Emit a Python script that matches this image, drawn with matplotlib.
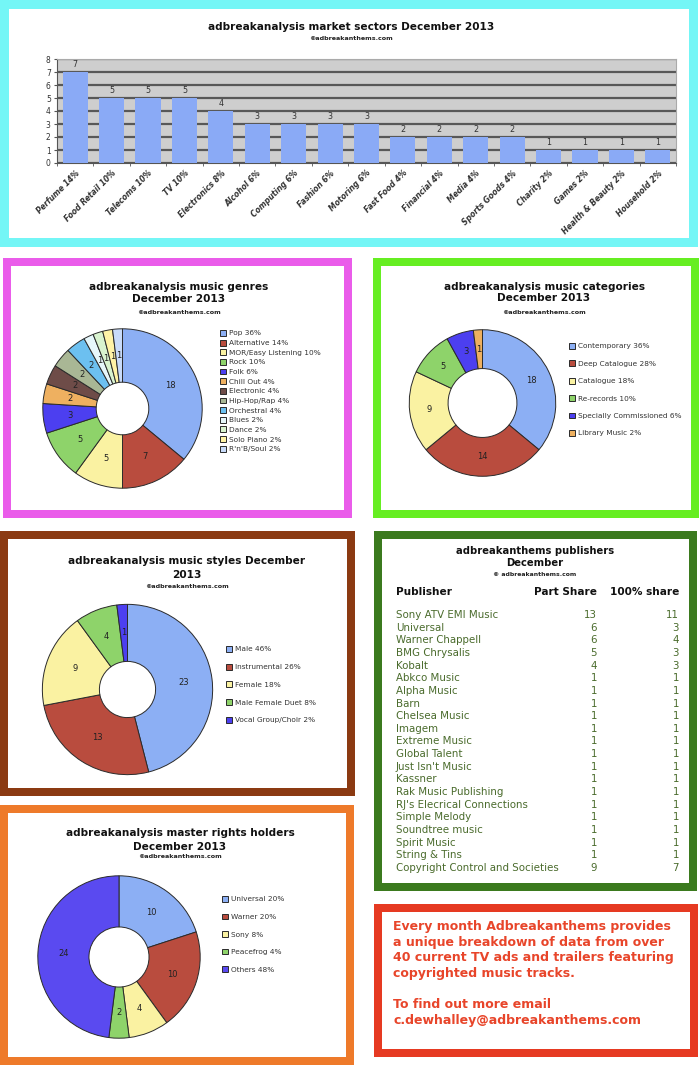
import matplotlib
matplotlib.use("Agg")
import matplotlib.pyplot as plt
from matplotlib.patches import Rectangle
import numpy as np

W, H = 700, 1069

plt.rcParams["font.family"] = "DejaVu Sans"

# ---- data ----
SECTORS = ["Perfume 14%", "Food Retail 10%", "Telecoms 10%", "TV 10%", "Electronics 8%",
           "Alcohol 6%", "Computing 6%", "Fashion 6%", "Motoring 6%", "Fast Food 4%",
           "Financial 4%", "Media 4%", "Sports Goods 4%", "Charity 2%", "Games 2%",
           "Health & Beauty 2%", "Household 2%"]
SECTOR_COUNTS = [7, 5, 5, 5, 4, 3, 3, 3, 3, 2, 2, 2, 2, 1, 1, 1, 1]

GENRES = ["Pop 36%", "Alternative 14%", "MOR/Easy Listening 10%", "Rock 10%", "Folk 6%",
          "Chill Out 4%", "Electronic 4%", "Hip-Hop/Rap 4%", "Orchestral 4%", "Blues 2%",
          "Dance 2%", "Solo Piano 2%", "R'n'B/Soul 2%"]
GENRE_COUNTS = [18, 7, 5, 5, 3, 2, 2, 2, 2, 1, 1, 1, 1]

CATEGORIES = ["Contemporary 36%", "Deep Catalogue 28%", "Catalogue 18%", "Re-records 10%",
              "Specially Commissioned 6%", "Library Music 2%"]
CATEGORY_COUNTS = [18, 14, 9, 5, 3, 1]

STYLES = ["Male 46%", "Instrumental 26%", "Female 18%", "Male Female Duet 8%",
          "Vocal Group/Choir 2%"]
STYLE_COUNTS = [23, 13, 9, 4, 1]

HOLDERS = ["Universal 20%", "Warner 20%", "Sony 8%", "Peacefrog 4%", "Others 48%"]
HOLDER_COUNTS = [10, 10, 4, 2, 24]

PUBLISHERS = ["Sony ATV EMI Music", "Universal", "Warner Chappell", "BMG Chrysalis", "Kobalt",
              "Abkco Music", "Alpha Music", "Barn", "Chelsea Music", "Imagem", "Extreme Music",
              "Global Talent", "Just Isn't Music", "Kassner", "Rak Music Publishing",
              "RJ's Elecrical Connections", "Simple Melody", "Soundtree music", "Spirit Music",
              "String & Tins", "Copyright Control and Societies"]
PART_SHARE = [13, 6, 6, 5, 4, 1, 1, 1, 1, 1, 1, 1, 1, 1, 1, 1, 1, 1, 1, 1, 9]
FULL_SHARE = [11, 3, 4, 3, 3, 1, 1, 1, 1, 1, 1, 1, 1, 1, 1, 1, 1, 1, 1, 1, 7]

BLUE, RED, YELLOW, GREEN = "#8cafF4", "#b94c3e", "#faf2a2", "#8ed36a"
PURPLE, ORANGE = "#4c3ff0", "#eeb060"
GENRE_COLORS = [BLUE, RED, YELLOW, GREEN, PURPLE, ORANGE, "#6e4c48", "#a9b795",
                "#6cc0f0", "#e6f7fb", "#d8f3cf", "#fff3a6", "#c8dbfa"]
CATEGORY_COLORS = [BLUE, RED, YELLOW, GREEN, PURPLE, ORANGE]
STYLE_COLORS = [BLUE, RED, YELLOW, GREEN, PURPLE]
HOLDER_COLORS = [BLUE, RED, YELLOW, GREEN, "#5a4af0"]

INFO_TEXT = ("Every month Adbreakanthems provides\n"
             "a unique breakdown of data from over\n"
             "40 current TV ads and trailers featuring\n"
             "copyrighted music tracks.\n\n"
             "To find out more email\n"
             "c.dewhalley@adbreakanthems.com")


def box(x0, y0, x1, y1):
    return [x0 / W, 1 - y1 / H, (x1 - x0) / W, (y1 - y0) / H]


def fx(x):
    return x / W


def fy(y):
    return 1 - y / H


def panel(fig, x0, y0, x1, y1, color, t=8):
    fig.add_artist(Rectangle((fx(x0), fy(y1)), (x1 - x0) / W, (y1 - y0) / H,
                             transform=fig.transFigure, facecolor=color,
                             edgecolor="none", zorder=-2))
    fig.add_artist(Rectangle((fx(x0 + t), fy(y1 - t)), (x1 - x0 - 2 * t) / W,
                             (y1 - y0 - 2 * t) / H, transform=fig.transFigure,
                             facecolor="white", edgecolor="none", zorder=-1))


def titles(fig, cx, lines, sub_y):
    for text, y in lines:
        fig.text(fx(cx), fy(y), text, ha="center", va="center",
                 fontsize=7.6, fontweight="bold", color="#111111")
    fig.text(fx(cx), fy(sub_y), "©adbreakanthems.com", ha="center", va="center",
             fontsize=4.6, fontweight="bold", color="#222222")


def donut(fig, cx, cy, r, inner, values, colors, labels, leg_x, leg_y, spacing):
    ax = fig.add_axes(box(cx - r, cy - r, cx + r, cy + r))
    total = sum(values)
    wedges, _, autotexts = ax.pie(
        values, colors=colors, startangle=90, counterclock=False, radius=1.0,
        wedgeprops=dict(width=1 - inner, edgecolor="#2a2a2a", linewidth=0.7),
        autopct=lambda p: f"{p * total / 100:.0f}",
        pctdistance=1 - (1 - inner) / 2,
        textprops=dict(fontsize=6, color="#222222"))
    ax.set_xlim(-1.01, 1.01)
    ax.set_ylim(-1.01, 1.01)
    ax.axis("off")
    fs = 5.3
    fig.legend(wedges, labels, loc="upper left",
               bbox_to_anchor=(fx(leg_x), fy(leg_y - 5)), frameon=False,
               fontsize=fs, borderpad=0, borderaxespad=0,
               handlelength=0.85, handleheight=0.85, handletextpad=0.35,
               labelspacing=spacing, labelcolor="#333333")


fig = plt.figure(figsize=(W / 100, H / 100), dpi=100)
fig.patch.set_facecolor("white")

panel(fig, 0, 0, 698, 247, "#74f6f6", t=9)
panel(fig, 3, 258, 352, 518, "#ea5cea")
panel(fig, 373, 258, 699, 518, "#66ee22")
panel(fig, 0, 531, 355, 796, "#8b3a12")
panel(fig, 374, 531, 697, 891, "#3b7a1e")
panel(fig, 0, 805, 354, 1065, "#ee7a2a")
panel(fig, 374, 904, 698, 1057, "#e63a22")

# ---- market sectors bar chart ----
titles(fig, 351, [("adbreakanalysis market sectors December 2013", 27)], 38)
ax = fig.add_axes(box(57, 59, 676, 163))
x = np.arange(len(SECTORS))
bars = ax.bar(x, SECTOR_COUNTS, width=0.69, color="#8aaaf6", zorder=3)
ax.bar_label(bars, padding=2, fontsize=5.8, color="#333333")
ax.set_facecolor("#cecece")
ax.set_xlim(-0.5, len(SECTORS) - 0.5)
ax.set_ylim(0, 8)
ax.set_yticks(range(9))
ax.yaxis.grid(True, color="#585858", linewidth=1.6)
ax.set_axisbelow(True)
ax.set_xticks(x)
ax.set_xticklabels(SECTORS, rotation=45, ha="right", va="top", rotation_mode="anchor",
                   fontsize=5.5, fontweight="bold", fontstyle="italic", color="#333333")
ax.set_xticks(np.arange(-0.5, len(SECTORS)), minor=True)
ax.tick_params(axis="x", which="major", length=0, pad=4)
ax.tick_params(axis="x", which="minor", length=2.5, color="#555555")
ax.tick_params(axis="y", labelsize=5.5, length=2.5, pad=2, labelcolor="#333333", color="#555555")
for side in ["left", "bottom"]:
    ax.spines[side].set_color("#555555")
for side in ["top", "right"]:
    ax.spines[side].set_color("#aaaaaa")

# ---- music genres ----
titles(fig, 179, [("adbreakanalysis music genres", 287), ("December 2013", 299)], 312)
donut(fig, 122.5, 408.5, 80.5, 0.33, GENRE_COUNTS, GENRE_COLORS, GENRES, 220, 335, 0.43)

# ---- music categories ----
titles(fig, 544, [("adbreakanalysis music categories", 287), ("December 2013", 298)], 312)
donut(fig, 482.5, 403, 74, 0.47, CATEGORY_COUNTS, CATEGORY_COLORS, CATEGORIES, 569, 348, 1.48)

# ---- music styles ----
titles(fig, 187, [("adbreakanalysis music styles December", 561), ("2013", 575)], 587)
donut(fig, 127.5, 689.5, 86, 0.33, STYLE_COUNTS, STYLE_COLORS, STYLES, 226, 651, 1.52)

# ---- master rights holders ----
titles(fig, 180, [("adbreakanalysis master rights holders", 833), ("December 2013", 847)], 857)
donut(fig, 119, 957, 82, 0.37, HOLDER_COUNTS, HOLDER_COLORS, HOLDERS, 222, 901, 1.5)

# ---- publishers table ----
fig.text(fx(535), fy(551), "adbreakanthems publishers", ha="center", va="center",
         fontsize=7.2, fontweight="bold", color="#111111")
fig.text(fx(535), fy(563), "December", ha="center", va="center",
         fontsize=7.2, fontweight="bold", color="#111111")
fig.text(fx(535), fy(574), "© adbreakanthems.com", ha="center", va="center",
         fontsize=4.4, fontweight="bold", color="#222222")
fig.text(fx(396), fy(592), "Publisher", ha="left", va="center",
         fontsize=7.6, fontweight="bold", color="#111111")
fig.text(fx(597), fy(592), "Part Share", ha="right", va="center",
         fontsize=7.6, fontweight="bold", color="#111111")
fig.text(fx(679), fy(592), "100% share", ha="right", va="center",
         fontsize=7.6, fontweight="bold", color="#111111")

n = len(PUBLISHERS)
step = (868 - 615) / (n - 1)
tax = fig.add_axes(box(382, 615 - step / 2, 690, 868 + step / 2))
tax.set_xlim(382, 690)
tax.set_ylim(n - 0.5, -0.5)
tax.axis("off")
green_text = "#4a6b2c"
for i, (name, part, full) in enumerate(zip(PUBLISHERS, PART_SHARE, FULL_SHARE)):
    tax.text(396, i, name, ha="left", va="center", fontsize=7.4, color=green_text)
    tax.text(597, i, str(part), ha="right", va="center", fontsize=7.4, color=green_text)
    tax.text(679, i, str(full), ha="right", va="center", fontsize=7.4, color=green_text)

# ---- info box ----
fig.text(fx(393), fy(920), INFO_TEXT, ha="left", va="top", fontsize=9,
         fontweight="bold", color="#e8452a", linespacing=1.27)

fig.savefig("out.png", dpi=100, facecolor="white")
